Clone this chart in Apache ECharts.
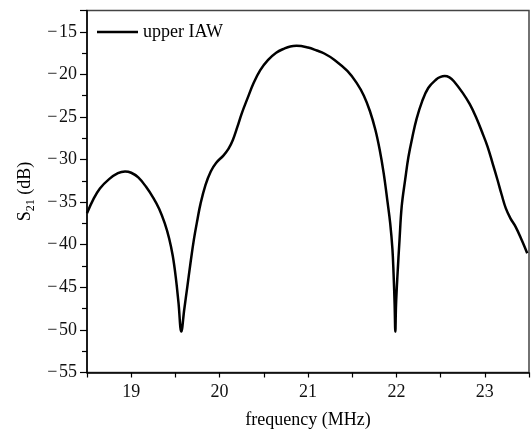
<!DOCTYPE html>
<html>
<head>
<meta charset="utf-8">
<script src="https://cdn.jsdelivr.net/npm/echarts@6/dist/echarts.min.js"></script>
<style>
html,body{margin:0;padding:0;background:#fff;}
#chart{width:532px;height:435px;}
</style>
</head>
<body>
<div id="chart"></div>
<script>
var seriesName = 'upper IAW';
var freq = [18.5, 18.57, 18.646, 18.75, 18.85, 18.93, 19.0, 19.08, 19.168, 19.25, 19.317, 19.38, 19.43, 19.47, 19.504, 19.535, 19.567,
  19.6, 19.634, 19.67, 19.709, 19.75, 19.784, 19.84, 19.9, 19.96, 20.045, 20.1, 20.15, 20.2, 20.25, 20.32, 20.381, 20.46,
  20.549, 20.64, 20.736, 20.8, 20.87, 21.0, 21.1, 21.184, 21.3, 21.445, 21.55, 21.632, 21.7, 21.762, 21.81, 21.856, 21.9, 21.93, 21.955,
  21.968, 21.98, 21.988, 21.996, 22.013, 22.035, 22.06, 22.1, 22.136, 22.18, 22.229, 22.29, 22.36, 22.45, 22.5, 22.546, 22.6, 22.65,
  22.752, 22.83, 22.9, 22.97, 23.032, 23.09, 23.144, 23.19, 23.237, 23.29, 23.349, 23.42, 23.48];
var s21 = [-36.3, -34.7, -33.4, -32.3, -31.6, -31.4, -31.55, -32.1, -33.2, -34.5, -35.8, -37.5, -39.3, -41.3, -43.8, -46.8, -50.2,
  -47.6, -45.0, -42.2, -39.4, -37.0, -35.2, -33.0, -31.4, -30.4, -29.5, -28.75, -27.7, -26.2, -24.6, -22.7, -21.1, -19.5,
  -18.3, -17.45, -16.95, -16.72, -16.65, -16.85, -17.2, -17.55, -18.3, -19.6, -21.0, -22.5, -24.3, -26.5, -28.8, -31.6, -35.0, -37.5, -40.5,
  -43.4, -47.0, -50.2, -47.0, -43.4, -39.5, -35.5, -32.3, -29.7, -27.4, -25.2, -23.2, -21.6, -20.6, -20.3, -20.2, -20.35, -20.8,
  -22.2, -23.5, -25.0, -26.8, -28.5, -30.5, -32.4, -34.1, -35.7, -36.9, -37.9, -39.5, -41.0];
var xTickLabels = [19, 20, 21, 22, 23];
var yTickLabels = [-55, -50, -45, -40, -35, -30, -25, -20, -15];

var font = 'Liberation Serif';
var data = freq.map(function (f, i) { return [f, s21[i]]; });
var chart = echarts.init(document.getElementById('chart'), null, {renderer: 'canvas'});
chart.setOption({
  animation: false,
  backgroundColor: '#fff',
  grid: {left: 87, right: -2, top: 10.5, bottom: 62.5, show: true, borderColor: '#444', borderWidth: 1.5, containLabel: false},
  legend: {
    left: 92, top: 18, itemWidth: 41, itemHeight: 14, itemGap: 10,
    textStyle: {fontFamily: font, fontSize: 18, color: '#000'},
    data: [{name: seriesName, icon: 'path://M0,6 L41,6 L41,8.5 L0,8.5 Z', itemStyle: {color: '#000'}}]
  },
  xAxis: {
    type: 'value', min: 18.5, max: 23.5, interval: 0.5,
    name: 'frequency (MHz)', nameLocation: 'middle', nameGap: 39,
    nameTextStyle: {fontFamily: font, fontSize: 18, color: '#000'},
    axisLine: {show: true, onZero: false, lineStyle: {color: '#000', width: 1.5}},
    axisTick: {show: true, inside: false, length: 5, lineStyle: {color: '#000', width: 1.2}},
    splitLine: {show: false},
    axisLabel: {
      fontFamily: font, fontSize: 18, color: '#111', margin: 11,
      formatter: function (v) { return xTickLabels.indexOf(Math.round(v * 100) / 100) >= 0 ? String(v) : ''; }
    }
  },
  yAxis: {
    type: 'value', min: -55, max: -12.5, interval: 5,
    name: '{s|S}{sub|21}{s| (dB)}', nameLocation: 'middle', nameGap: 48, nameRotate: 90,
    nameTextStyle: {
      fontFamily: font, fontSize: 18, color: '#000',
      rich: {
        s: {fontFamily: font, fontSize: 18, color: '#000', lineHeight: 22, verticalAlign: 'middle'},
        sub: {fontFamily: font, fontSize: 12, color: '#000', lineHeight: 12, verticalAlign: 'bottom'}
      }
    },
    axisLine: {show: true, onZero: false, lineStyle: {color: '#000', width: 1.5}},
    axisTick: {show: true, inside: false, length: 7, lineStyle: {color: '#000', width: 1.2}},
    minorTick: {show: true, splitNumber: 2, length: 5, lineStyle: {color: '#000', width: 1.2}},
    splitLine: {show: false},
    minorSplitLine: {show: false},
    axisLabel: {
      fontFamily: font, fontSize: 18, color: '#111', margin: 10,
      showMaxLabel: false,
      formatter: function (v) {
        if (yTickLabels.indexOf(v) < 0) return '';
        return v < 0 ? '\u2212\u200A' + Math.abs(v) : String(v);
      }
    }
  },
  series: [{
    name: seriesName, type: 'line', data: data, symbol: 'none', smooth: 0.4,
    lineStyle: {color: '#000', width: 2.5},
    itemStyle: {color: '#000'}
  }]
});
</script>
</body>
</html>
